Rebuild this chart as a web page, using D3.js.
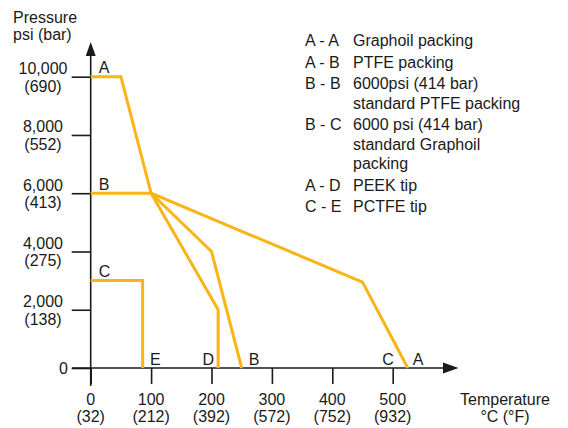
<!DOCTYPE html>
<html>
<head>
<meta charset="utf-8">
<script src="https://cdn.jsdelivr.net/npm/d3@7"></script>
<style>
  body { margin: 0; background: #fff; }
  text { font-family: "Liberation Sans", Arial, sans-serif; font-size: 16px; fill: #1a1a1a; }
</style>
</head>
<body>
<div id="grafica"></div>
<script>
// axis ticks
const tempTicks = [0, 100, 200, 300, 400, 500];
const tempF = ["(32)", "(212)", "(392)", "(572)", "(752)", "(932)"];
const psiTicks = [0, 2000, 4000, 6000, 8000, 10000];
const psiLabels = ["0", "2,000", "4,000", "6,000", "8,000", "10,000"];
const barLabels = ["", "(138)", "(275)", "(413)", "(552)", "(690)"];

// lines [temp °C, psi]
const lineAA = [[0, 10000], [50, 10000], [100, 6000], [450, 2950], [525, 0]];
const lineAB = [[100, 6000], [200, 4000], [250, 0]];
const lineAD = [[100, 6000], [211, 2000], [211, 0]];
const lineBB = [[0, 6000], [100, 6000]];
const lineCE = [[0, 3000], [86, 3000], [86, 0]];

// letters on the lines
const startLabels = [["A", 10000], ["B", 6000], ["C", 3000]];
const endLabels = [["E", 100, "start", -1], ["D", 211, "end", -4], ["B", 250, "start", 7], ["C", 500, "end", 1], ["A", 525, "start", 5]];

// legend
const legend = [
  ["A - A", ["Graphoil packing"]],
  ["A - B", ["PTFE packing"]],
  ["B - B", ["6000psi (414 bar)", "standard PTFE packing"]],
  ["B - C", ["6000 psi (414 bar)", "standard Graphoil", "packing"]],
  ["A - D", ["PEEK tip"]],
  ["C - E", ["PCTFE tip"]]
];

const width = 568;
const height = 428;
const orange = "#fbb416";
const ink = "#1a1a1a";

const svg = d3.select("#grafica").append("svg")
  .attr("width", width)
  .attr("height", height);

const x = d3.scaleLinear().domain([0, 500]).range([90.7, 392.7]);
const y = d3.scaleLinear().domain([0, 10000]).range([368, 76.7]);

// two line text as one element
function twoLines(g, px, py, a, b, anchor, gap) {
  const t = g.append("text").attr("x", px).attr("y", py).attr("text-anchor", anchor);
  t.append("tspan").attr("x", px).text(a);
  t.append("tspan").attr("x", px).attr("dy", gap).text(b);
  return t;
}

// axis ticks
svg.append("g")
  .attr("transform", `translate(0,${y(0)})`)
  .call(d3.axisBottom(x).tickValues(tempTicks).tickSize(16).tickFormat(""))
  .call(g => g.select(".domain").remove())
  .call(g => g.selectAll("line").attr("stroke", ink).attr("stroke-width", 1.6));

svg.append("g")
  .attr("transform", `translate(${x(0)},0)`)
  .call(d3.axisLeft(y).tickValues(psiTicks).tickSize(19).tickFormat(""))
  .call(g => g.select(".domain").remove())
  .call(g => g.selectAll("line").attr("stroke", ink).attr("stroke-width", 1.6));

// axis lines with arrows
svg.append("line").attr("x1", 72).attr("x2", 446).attr("y1", y(0)).attr("y2", y(0))
  .attr("stroke", ink).attr("stroke-width", 1.6);
svg.append("path")
  .attr("d", `M458.5,${y(0)} L443,${y(0) - 5.5} L443,${y(0) + 5.5} Z`)
  .attr("fill", ink);
svg.append("line").attr("x1", x(0)).attr("x2", x(0)).attr("y1", 386).attr("y2", 54)
  .attr("stroke", ink).attr("stroke-width", 1.6);
svg.append("path")
  .attr("d", `M${x(0)},42 L${x(0) - 5},56 L${x(0) + 5},56 Z`)
  .attr("fill", ink);

// tick labels
tempTicks.forEach((t, i) => {
  twoLines(svg, x(t), 405, t, tempF[i], "middle", 16.5);
});
psiTicks.forEach((p, i) => {
  if (p === 0) {
    svg.append("text").attr("x", 68).attr("y", y(p) + 6).attr("text-anchor", "end").text(psiLabels[i]);
  } else {
    twoLines(svg, 43, y(p) - 2.5, psiLabels[i], barLabels[i], "middle", 17.5);
  }
});

// axis titles
twoLines(svg, 13, 22.5, "Pressure", "psi (bar)", "start", 17);
twoLines(svg, 505, 405, "Temperature", "°C (°F)", "middle", 16.5);

// lines
const line = d3.line().x(d => x(d[0])).y(d => y(d[1]));
[lineAA, lineAB, lineAD, lineBB, lineCE].forEach(d => {
  svg.append("path")
    .attr("d", line(d))
    .attr("fill", "none")
    .attr("stroke", orange)
    .attr("stroke-width", 3)
    .attr("stroke-linejoin", "miter");
});

// letters
startLabels.forEach(d => {
  svg.append("text").attr("x", x(0) + 8).attr("y", y(d[1]) - 3.5).text(d[0]);
});
endLabels.forEach(d => {
  svg.append("text").attr("x", x(d[1]) + d[3]).attr("y", y(0) - 3)
    .attr("text-anchor", d[2]).text(d[0]);
});

// legend
let ly = 46;
legend.forEach(d => {
  svg.append("text").attr("x", 305).attr("y", ly).text(d[0]);
  const t = svg.append("text").attr("x", 353).attr("y", ly);
  d[1].forEach((s, j) => {
    t.append("tspan").attr("x", 353).attr("dy", j === 0 ? 0 : 19.5).text(s);
  });
  ly += (d[1].length - 1) * 19.5 + 21.5;
});
</script>
</body>
</html>
